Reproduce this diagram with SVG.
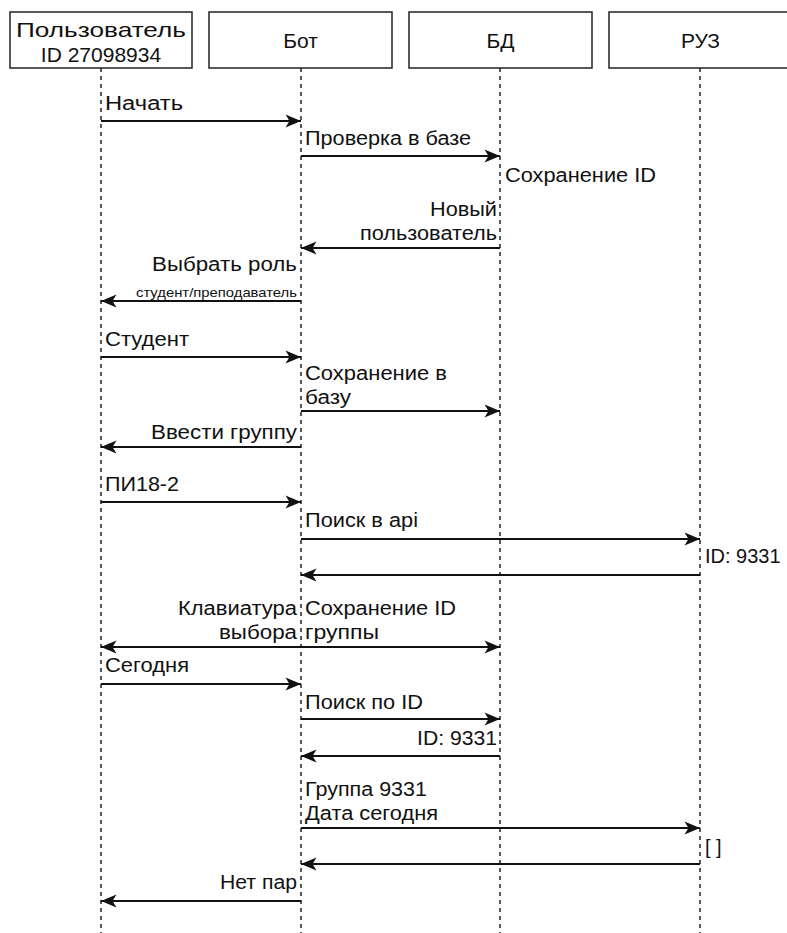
<svg xmlns="http://www.w3.org/2000/svg" width="787" height="933" viewBox="0 0 787 933">
<defs>
<style>
.box{fill:#fff;stroke:#222;stroke-width:1.5}
.life{stroke:#222;stroke-width:1.5;stroke-dasharray:4 4;fill:none}
.msg{stroke:#111;stroke-width:1.8;fill:none;marker-end:url(#arr)}
.both{marker-start:url(#arr)}
text{font-family:"Liberation Sans",Arial,sans-serif;font-size:20px;fill:#111}
.hd{font-size:21px;text-anchor:middle}
.r{text-anchor:end}
.sm{font-size:13px}
</style>
<marker id="arr" markerUnits="userSpaceOnUse" markerWidth="18" markerHeight="14" refX="16" refY="7" orient="auto-start-reverse">
<path d="M0.5,0.5 L16,7 L0.5,13.5 L4.5,7 Z" fill="#111"/>
</marker>
</defs>
<rect width="787" height="933" fill="#fff"/>
<g id="user">
<rect class="box" x="10" y="12" width="182" height="56"/>
<text class="hd" x="101" y="37" textLength="170" lengthAdjust="spacingAndGlyphs">Пользователь</text>
<text class="hd" x="101" y="62">ID 27098934</text>
<line class="life" x1="101" y1="68" x2="101" y2="933"/>
</g>
<g id="bot">
<rect class="box" x="209" y="12" width="183" height="56"/>
<text class="hd" x="300.5" y="48">Бот</text>
<line class="life" x1="301" y1="68" x2="301" y2="933"/>
</g>
<g id="db">
<rect class="box" x="409" y="12" width="183" height="56"/>
<text class="hd" x="500.5" y="48">БД</text>
<line class="life" x1="500" y1="68" x2="500" y2="933"/>
</g>
<g id="ruz">
<rect class="box" x="609" y="12" width="183" height="56"/>
<text class="hd" x="700.5" y="48">РУЗ</text>
<line class="life" x1="700" y1="68" x2="700" y2="933"/>
</g>
<g id="connectors">
<line class="msg" x1="101" y1="121" x2="301" y2="121"/>
<line class="msg" x1="301" y1="156" x2="500" y2="156"/>
<line class="msg" x1="500" y1="248" x2="301" y2="248"/>
<line class="msg" x1="301" y1="301" x2="101" y2="301"/>
<line class="msg" x1="101" y1="357" x2="301" y2="357"/>
<line class="msg" x1="301" y1="411" x2="500" y2="411"/>
<line class="msg" x1="301" y1="447" x2="101" y2="447"/>
<line class="msg" x1="101" y1="502" x2="301" y2="502"/>
<line class="msg" x1="301" y1="539" x2="700" y2="539"/>
<line class="msg" x1="700" y1="575" x2="301" y2="575"/>
<line class="msg both" x1="101" y1="647" x2="500" y2="647"/>
<line class="msg" x1="101" y1="684" x2="301" y2="684"/>
<line class="msg" x1="301" y1="719" x2="500" y2="719"/>
<line class="msg" x1="500" y1="756" x2="301" y2="756"/>
<line class="msg" x1="301" y1="828" x2="700" y2="828"/>
<line class="msg" x1="700" y1="864" x2="301" y2="864"/>
<line class="msg" x1="301" y1="901" x2="101" y2="901"/>
</g>
<g id="labels">
<text x="105" y="110" textLength="78" lengthAdjust="spacingAndGlyphs">Начать</text>
<text x="305" y="145" textLength="166" lengthAdjust="spacingAndGlyphs">Проверка в базе</text>
<text x="505" y="182" textLength="151" lengthAdjust="spacingAndGlyphs">Сохранение ID</text>
<text class="r" x="497" y="216" textLength="67" lengthAdjust="spacingAndGlyphs">Новый</text>
<text class="r" x="497" y="240" textLength="137" lengthAdjust="spacingAndGlyphs">пользователь</text>
<text class="r" x="297" y="271" textLength="145" lengthAdjust="spacingAndGlyphs">Выбрать роль</text>
<text class="r sm" x="297" y="297" textLength="161" lengthAdjust="spacingAndGlyphs">студент/преподаватель</text>
<text x="105" y="346" textLength="84" lengthAdjust="spacingAndGlyphs">Студент</text>
<text x="305" y="380" textLength="142" lengthAdjust="spacingAndGlyphs">Сохранение в</text>
<text x="305" y="404" textLength="46" lengthAdjust="spacingAndGlyphs">базу</text>
<text class="r" x="297" y="439" textLength="146" lengthAdjust="spacingAndGlyphs">Ввести группу</text>
<text x="105" y="491" textLength="74" lengthAdjust="spacingAndGlyphs">ПИ18-2</text>
<text x="305" y="527" textLength="113" lengthAdjust="spacingAndGlyphs">Поиск в api</text>
<text x="705" y="563">ID: 9331</text>
<text class="r" x="297" y="615" textLength="119" lengthAdjust="spacingAndGlyphs">Клавиатура</text>
<text class="r" x="297" y="639" textLength="78" lengthAdjust="spacingAndGlyphs">выбора</text>
<text x="305" y="615" textLength="151" lengthAdjust="spacingAndGlyphs">Сохранение ID</text>
<text x="305" y="639" textLength="74" lengthAdjust="spacingAndGlyphs">группы</text>
<text x="105" y="672" textLength="84" lengthAdjust="spacingAndGlyphs">Сегодня</text>
<text x="305" y="709" textLength="118" lengthAdjust="spacingAndGlyphs">Поиск по ID</text>
<text class="r" x="497" y="745" textLength="80" lengthAdjust="spacingAndGlyphs">ID: 9331</text>
<text x="305" y="796" textLength="122" lengthAdjust="spacingAndGlyphs">Группа 9331</text>
<text x="305" y="820" textLength="133" lengthAdjust="spacingAndGlyphs">Дата сегодня</text>
<text x="705" y="854">[ ]</text>
<text class="r" x="297" y="889" textLength="77" lengthAdjust="spacingAndGlyphs">Нет пар</text>
</g>
</svg>
